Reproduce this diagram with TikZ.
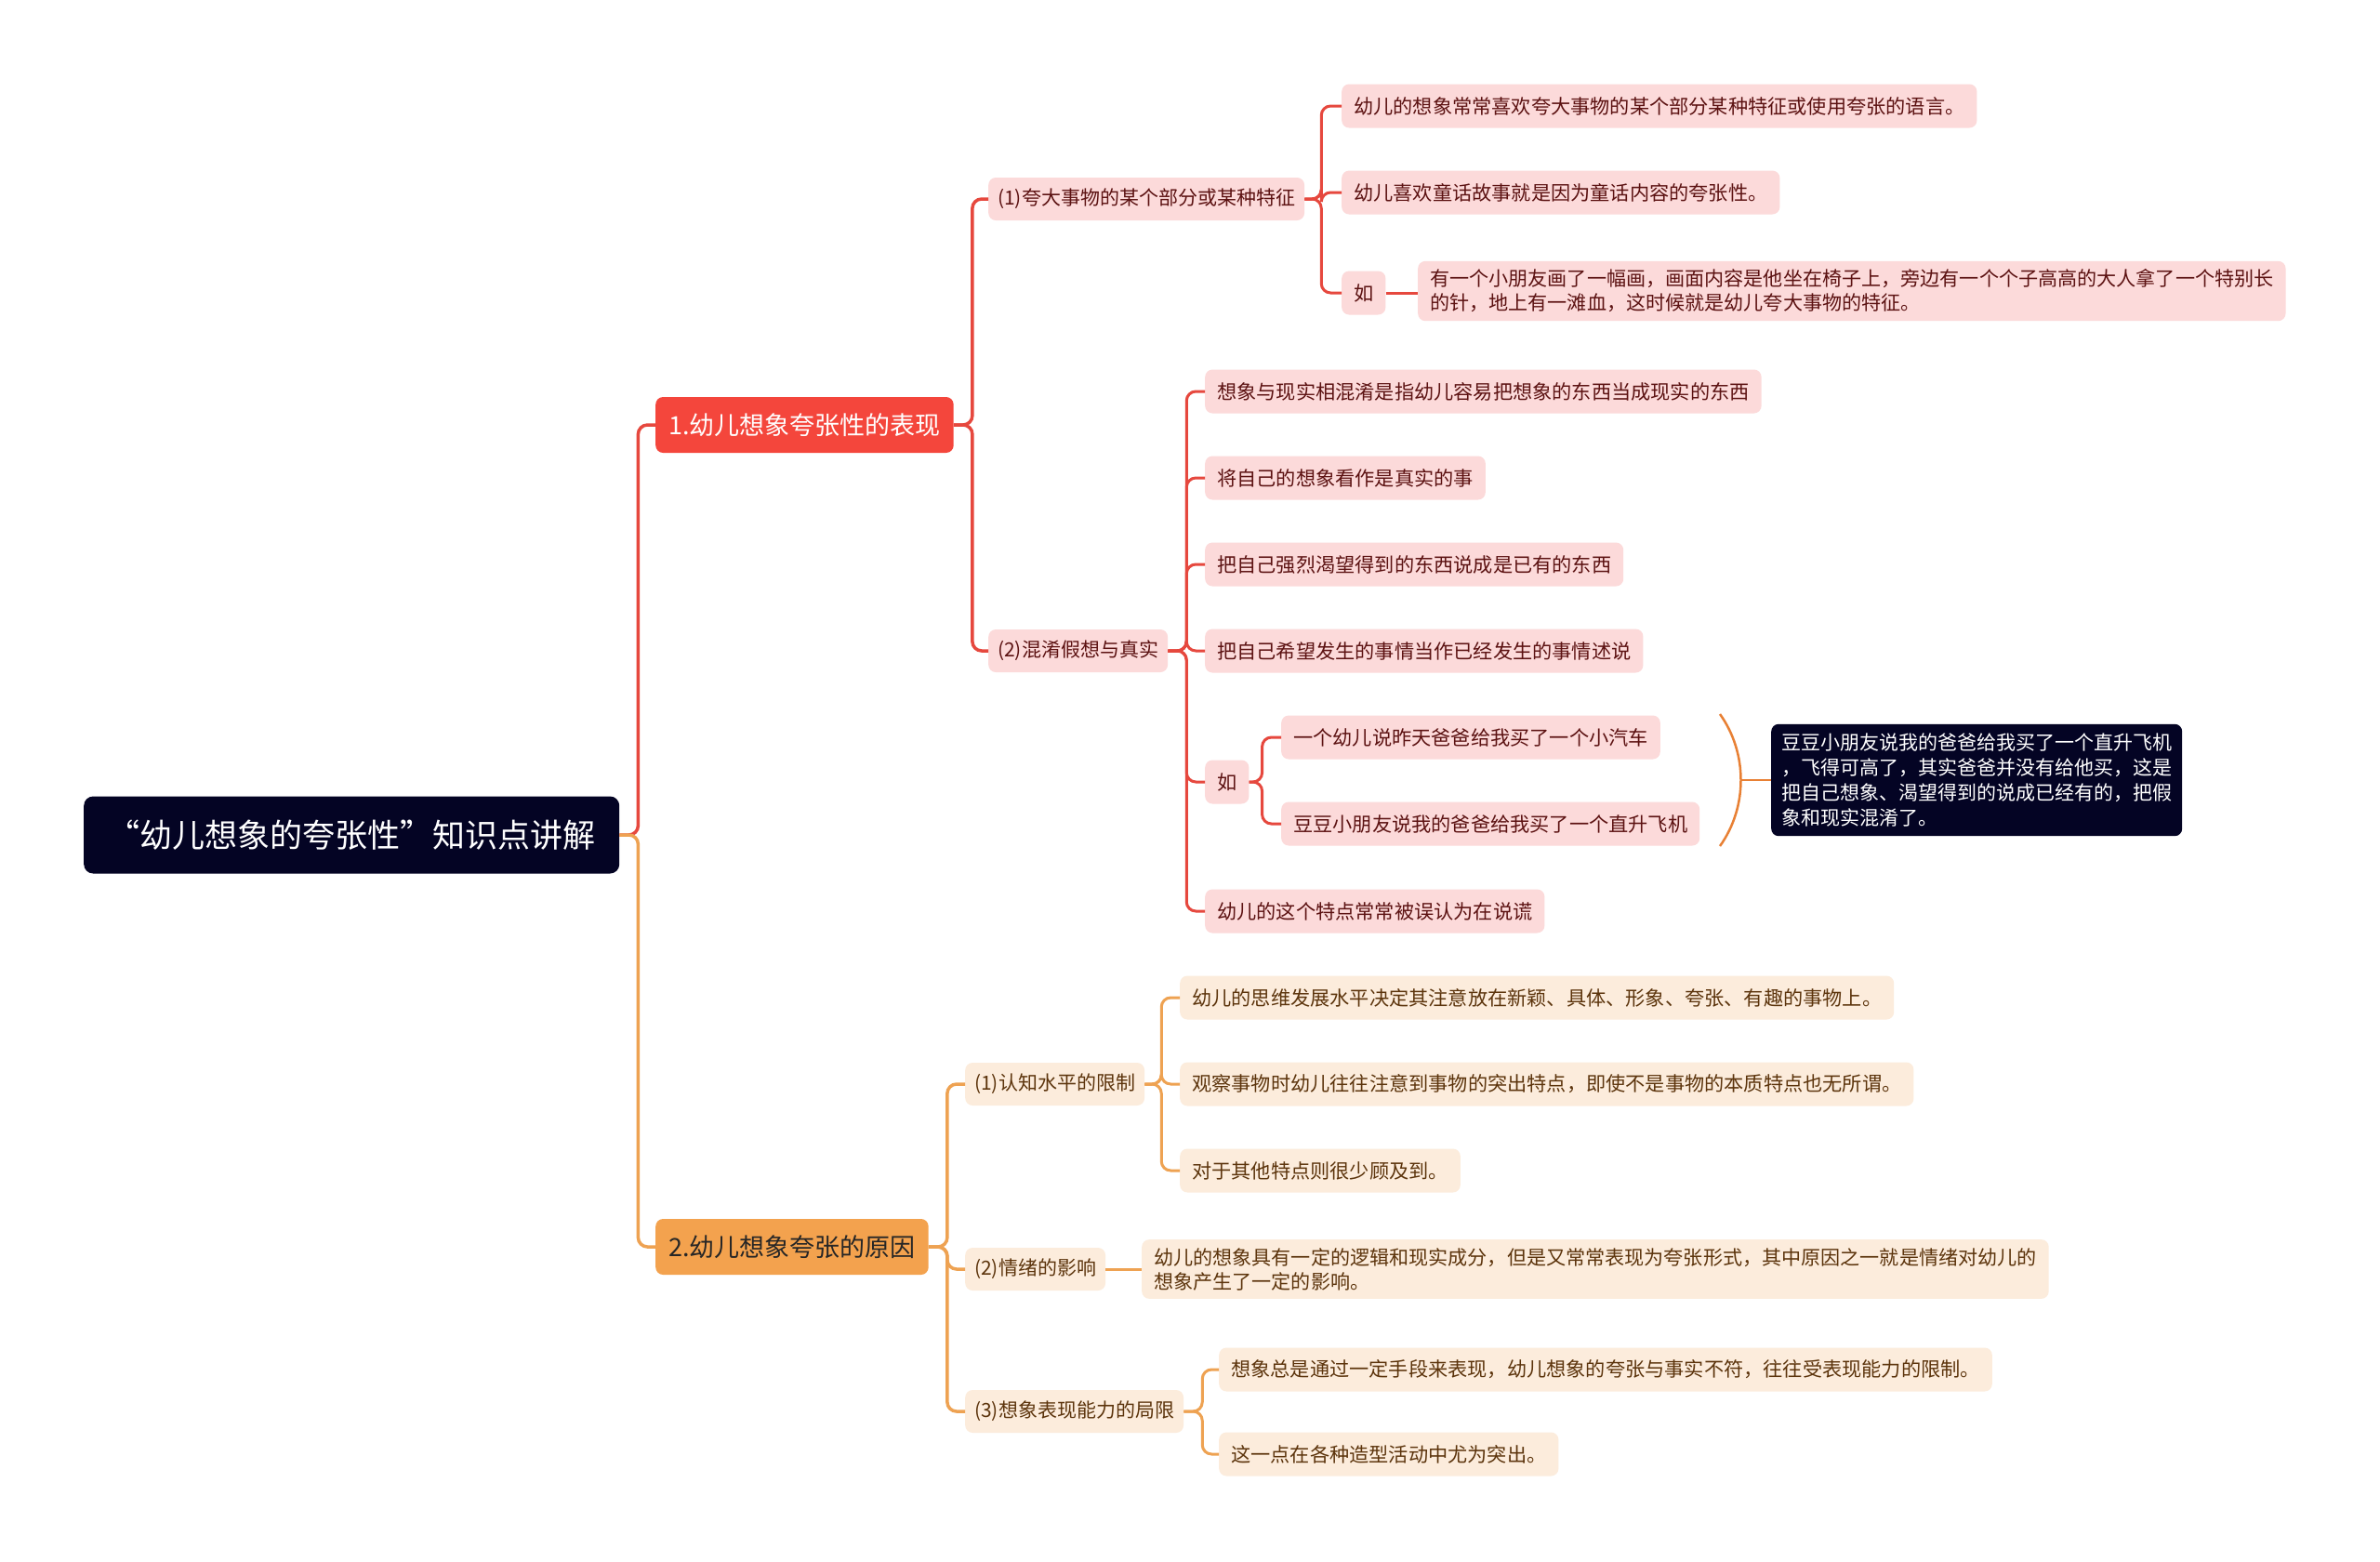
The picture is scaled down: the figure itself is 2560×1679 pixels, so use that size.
\documentclass[tikz,border=0pt]{standalone}
\usepackage{fontspec}
\setmainfont{Noto Sans CJK SC}
\usepackage{tikz}
\usetikzlibrary{positioning}

\definecolor{rootnavy}{RGB}{4,4,36}
\definecolor{redbr}{RGB}{230,72,62}
\definecolor{redfill}{RGB}{244,70,60}
\definecolor{pinkfill}{RGB}{252,218,218}
\definecolor{pinktext}{RGB}{92,18,18}
\definecolor{orangebr}{RGB}{238,162,82}
\definecolor{orangefill}{RGB}{243,162,78}
\definecolor{peachfill}{RGB}{252,236,220}
\definecolor{peachtext}{RGB}{92,52,12}
\definecolor{bracecol}{RGB}{232,128,52}

\begin{document}
\begin{tikzpicture}[x=1pt, y=-1pt,
    rootbox/.style={fill=rootnavy, text=white, rounded corners=10, anchor=west,
                    font=\fontsize{35}{42}\selectfont, minimum width=576, minimum height=83},
    topicbox/.style={rounded corners=8, anchor=west, inner xsep=14,
                     font=\fontsize{27}{32}\selectfont, minimum height=60},
    subbox/.style={rounded corners=8, anchor=west, inner xsep=10,
                   font=\fontsize{21}{27}\selectfont, minimum height=46},
    leafbox/.style={rounded corners=8, anchor=west, inner xsep=13, align=left,
                    font=\fontsize{21.2}{26}\selectfont, minimum height=47},
    longbox/.style={leafbox, inner ysep=9, font=\fontsize{21.1}{26}\selectfont},
    pinkbox/.style={fill=pinkfill, text=pinktext},
    peachbox/.style={fill=peachfill, text=peachtext},
    redline/.style={draw=redbr, line width=3.5, rounded corners=10},
    orangeline/.style={draw=orangebr, line width=3.5, rounded corners=10}]

    \fill [white] (0,0) rectangle (2560,1679);
    \useasboundingbox (0,0) rectangle (2560,1679);

    \node [rootbox] (root) at (90,898) {“幼儿想象的夸张性”知识点讲解};

    \node [topicbox, fill=redfill, text=white]    (show)  at (705,457)  {1.幼儿想象夸张性的表现};
    \node [topicbox, fill=orangefill, text=black!85] (cause) at (705,1341) {2.幼儿想象夸张的原因};

    \node [subbox, pinkbox] (exag) at (1063,214) {(1)夸大事物的某个部分或某种特征};
    \node [subbox, pinkbox] (mix)  at (1063,700) {(2)混淆假想与真实};

    \node [leafbox, pinkbox] (exag1)  at (1443,114) {幼儿的想象常常喜欢夸大事物的某个部分某种特征或使用夸张的语言。};
    \node [leafbox, pinkbox] (exag2)  at (1443,207) {幼儿喜欢童话故事就是因为童话内容的夸张性。};
    \node [leafbox, pinkbox] (exagru) at (1443,315) {如};
    \node [longbox, pinkbox] (exagex) at (1525,313)
        {有一个小朋友画了一幅画，画面内容是他坐在椅子上，旁边有一个个子高高的大人拿了一个特别长\\的针，地上有一滩血，这时候就是幼儿夸大事物的特征。};

    \node [leafbox, pinkbox] (mix1)   at (1296,421) {想象与现实相混淆是指幼儿容易把想象的东西当成现实的东西};
    \node [leafbox, pinkbox] (mix2)   at (1296,514) {将自己的想象看作是真实的事};
    \node [leafbox, pinkbox] (mix3)   at (1296,607) {把自己强烈渴望得到的东西说成是已有的东西};
    \node [leafbox, pinkbox] (mix4)   at (1296,700) {把自己希望发生的事情当作已经发生的事情述说};
    \node [leafbox, pinkbox] (mixru)  at (1296,841) {如};
    \node [leafbox, pinkbox] (mixex1) at (1378,793) {一个幼儿说昨天爸爸给我买了一个小汽车};
    \node [leafbox, pinkbox] (mixex2) at (1378,886) {豆豆小朋友说我的爸爸给我买了一个直升飞机};
    \node [leafbox, pinkbox] (mix5)   at (1296,980) {幼儿的这个特点常常被误认为在说谎};

    \node [leafbox, fill=rootnavy, text=white, inner xsep=11, inner ysep=10,
           font=\fontsize{21}{27}\selectfont] (summ) at (1905,839)
        {豆豆小朋友说我的爸爸给我买了一个直升飞机\\，飞得可高了，其实爸爸并没有给他买，这是\\把自己想象、渴望得到的说成已经有的，把假\\象和现实混淆了。};

    \node [subbox, peachbox] (level) at (1038,1166) {(1)认知水平的限制};
    \node [subbox, peachbox] (mood)  at (1038,1365) {(2)情绪的影响};
    \node [subbox, peachbox] (skill) at (1038,1518) {(3)想象表现能力的局限};

    \node [leafbox, peachbox] (level1) at (1269,1073) {幼儿的思维发展水平决定其注意放在新颖、具体、形象、夸张、有趣的事物上。};
    \node [leafbox, peachbox] (level2) at (1269,1166) {观察事物时幼儿往往注意到事物的突出特点，即使不是事物的本质特点也无所谓。};
    \node [leafbox, peachbox] (level3) at (1269,1259) {对于其他特点则很少顾及到。};
    \node [longbox, peachbox] (moodex) at (1228,1365)
        {幼儿的想象具有一定的逻辑和现实成分，但是又常常表现为夸张形式，其中原因之一就是情绪对幼儿的\\想象产生了一定的影响。};
    \node [leafbox, peachbox] (skill1) at (1311,1473) {想象总是通过一定手段来表现，幼儿想象的夸张与事实不符，往往受表现能力的限制。};
    \node [leafbox, peachbox] (skill2) at (1311,1564) {这一点在各种造型活动中尤为突出。};

    \draw [redline]    (root.east) -- ++(20,0) |- (show.west);
    \draw [orangeline] (root.east) -- ++(20,0) |- (cause.west);

    \draw [redline] (show.east) -- ++(20,0) |- (exag.west);
    \draw [redline] (show.east) -- ++(20,0) |- (mix.west);

    \draw [redline, line width=3] (exag.east) -- ++(18,0) |- (exag1.west);
    \draw [redline, line width=3] (exag.east) -- ++(18,0) |- (exag2.west);
    \draw [redline, line width=3] (exag.east) -- ++(18,0) |- (exagru.west);
    \draw [redline, line width=3] (exagru.east) -- (exagru.east -| exagex.west);

    \draw [redline, line width=3] (mix.east) -- ++(20,0) |- (mix1.west);
    \draw [redline, line width=3] (mix.east) -- ++(20,0) |- (mix2.west);
    \draw [redline, line width=3] (mix.east) -- ++(20,0) |- (mix3.west);
    \draw [redline, line width=3] (mix.east) -- ++(20,0) |- (mix4.west);
    \draw [redline, line width=3] (mix.east) -- ++(20,0) |- (mixru.west);
    \draw [redline, line width=3] (mix.east) -- ++(20,0) |- (mix5.west);
    \draw [redline, line width=3] (mixru.east) -- ++(14,0) |- (mixex1.west);
    \draw [redline, line width=3] (mixru.east) -- ++(14,0) |- (mixex2.west);

    \coordinate (bracetip) at (1872,839);
    \draw [bracecol, line width=2.5] (1850,768) .. controls (1880,810) and (1880,868) .. (1850,910);
    \draw [bracecol, line width=2.5] (bracetip) -- (summ.west);

    \draw [orangeline] (cause.east) -- ++(20,0) |- (level.west);
    \draw [orangeline] (cause.east) -- ++(20,0) |- (mood.west);
    \draw [orangeline] (cause.east) -- ++(20,0) |- (skill.west);

    \draw [orangeline, line width=3] (level.east) -- ++(18,0) |- (level1.west);
    \draw [orangeline, line width=3] (level.east) -- ++(18,0) |- (level2.west);
    \draw [orangeline, line width=3] (level.east) -- ++(18,0) |- (level3.west);
    \draw [orangeline, line width=3] (mood.east) -- (mood.east -| moodex.west);
    \draw [orangeline, line width=3] (skill.east) -- ++(20,0) |- (skill1.west);
    \draw [orangeline, line width=3] (skill.east) -- ++(20,0) |- (skill2.west);
\end{tikzpicture}
\end{document}
